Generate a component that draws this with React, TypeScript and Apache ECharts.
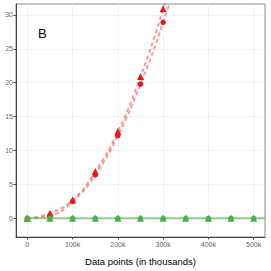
import React, { useEffect, useRef } from "react";
import * as echarts from "echarts";

// data points (x in thousands)
const redX = [0, 50, 100, 150, 200, 250, 300];
const redCircle = [0, 0.4, 2.5, 6.4, 12.2, 19.8, 28.9];
const redTriangle = [0, 0.75, 2.7, 6.9, 12.8, 20.9, 30.9];
// continuation of the fitted curves past the top of the panel (estimated)
const redFitExtX = [350];
const redCircleFitExt = [39.5];
const redTriangleFitExt = [42.8];

const greenX = [0, 50, 100, 150, 200, 250, 300, 350, 400, 450, 500];
const greenCircle = [0, 0, 0, 0, 0, 0, 0, 0, 0, 0, 0];
const greenTriangle = [0, 0, 0, 0, 0, 0, 0, 0, 0, 0, 0];
const greenFitX = [0, 525];
const greenFitY = [0, 0];

const xTicks = [0, 100, 200, 300, 400, 500];
const yTicks = [0, 5, 10, 15, 20, 25, 30];

const RED = "#E41A1C";
const GREEN = "#4DAF4A";
const FONT = "Liberation Sans";

const zip = (xs: number[], ys: number[]) => xs.map((x, i) => [x, ys[i]]);

export default function App() {
  const ref = useRef<HTMLDivElement>(null);
  useEffect(() => {
    if (!ref.current) return;
    const chart = echarts.init(ref.current, undefined, { renderer: "svg" });
    const redFitC = zip(redX.concat(redFitExtX), redCircle.concat(redCircleFitExt));
    const redFitT = zip(redX.concat(redFitExtX), redTriangle.concat(redTriangleFitExt));
    const pointStyle = (c: string) => ({ color: c, opacity: 1, borderWidth: 0 });
    chart.setOption({
      animation: false,
      backgroundColor: "#fff",
      textStyle: { fontFamily: FONT },
      title: {
        text: "B",
        left: 33,
        top: 22,
        textStyle: { fontSize: 13, fontWeight: "normal", color: "#000", fontFamily: FONT },
      },
      grid: {
        left: 16,
        right: 6,
        top: 4,
        bottom: 27,
        show: true,
        borderColor: "#888",
        borderWidth: 1,
        containLabel: false,
      },
      xAxis: {
        type: "value",
        min: -25,
        max: 525,
        name: "Data points (in thousands)",
        nameLocation: "middle",
        nameGap: 19,
        nameTextStyle: { fontSize: 9.5, color: "#000", fontFamily: FONT },
        axisLine: { show: true, onZero: false, lineStyle: { color: "#444", width: 1 } },
        axisTick: { show: true, length: 2.5, customValues: xTicks, lineStyle: { color: "#444" } },
        axisLabel: {
          customValues: xTicks,
          fontSize: 7,
          color: "#666",
          margin: 4,
          formatter: (v: number) => (v === 0 ? "0" : v + "k"),
        },
        splitLine: { show: false },
      },
      yAxis: {
        type: "value",
        min: -2.75,
        max: 31.6,
        axisLine: { show: true, onZero: false, lineStyle: { color: "#444", width: 1 } },
        axisTick: { show: true, length: 2.5, customValues: yTicks, lineStyle: { color: "#444" } },
        axisLabel: {
          customValues: yTicks,
          fontSize: 7,
          color: "#666",
          margin: 3,
        },
        splitLine: { show: false },
      },
      series: [
        {
          type: "line",
          data: [],
          silent: true,
          z: 0,
          markLine: {
            z: 0,
            silent: true,
            symbol: "none",
            label: { show: false },
            lineStyle: { color: "#EBEBEB", width: 0.7, type: "solid" },
            data: [
              ...xTicks.map((v) => ({ xAxis: v })),
              ...yTicks.map((v) => ({ yAxis: v })),
            ],
          },
        },
        {
          type: "line",
          data: redFitC,
          smooth: true,
          showSymbol: false,
          symbol: "none",
          lineStyle: { color: "rgba(240,90,90,0.6)", width: 2, type: [4, 3] },
          z: 2,
        },
        {
          type: "line",
          data: redFitT,
          smooth: true,
          showSymbol: false,
          symbol: "none",
          lineStyle: { color: "rgba(240,90,90,0.6)", width: 2, type: [4, 3] },
          z: 2,
        },
        {
          type: "line",
          data: zip(greenFitX, greenFitY),
          showSymbol: false,
          symbol: "none",
          lineStyle: { color: "rgba(77,175,74,0.6)", width: 2 },
          z: 2,
        },
        {
          type: "scatter",
          data: zip(redX, redCircle),
          symbol: "circle",
          symbolSize: 5.5,
          itemStyle: pointStyle(RED),
          z: 3,
        },
        {
          type: "scatter",
          data: zip(redX, redTriangle),
          symbol: "triangle",
          symbolSize: 7,
          itemStyle: pointStyle(RED),
          z: 3,
        },
        {
          type: "scatter",
          data: zip(greenX, greenCircle),
          symbol: "circle",
          symbolSize: 5.5,
          itemStyle: pointStyle(GREEN),
          z: 4,
        },
        {
          type: "scatter",
          data: zip(greenX, greenTriangle),
          symbol: "triangle",
          symbolSize: 7,
          itemStyle: pointStyle(GREEN),
          z: 4,
        },
      ],
    });
    return () => chart.dispose();
  }, []);
  return <div ref={ref} style={{ width: 271, height: 271, position: "absolute", left: 0, top: 0 }} />;
}
